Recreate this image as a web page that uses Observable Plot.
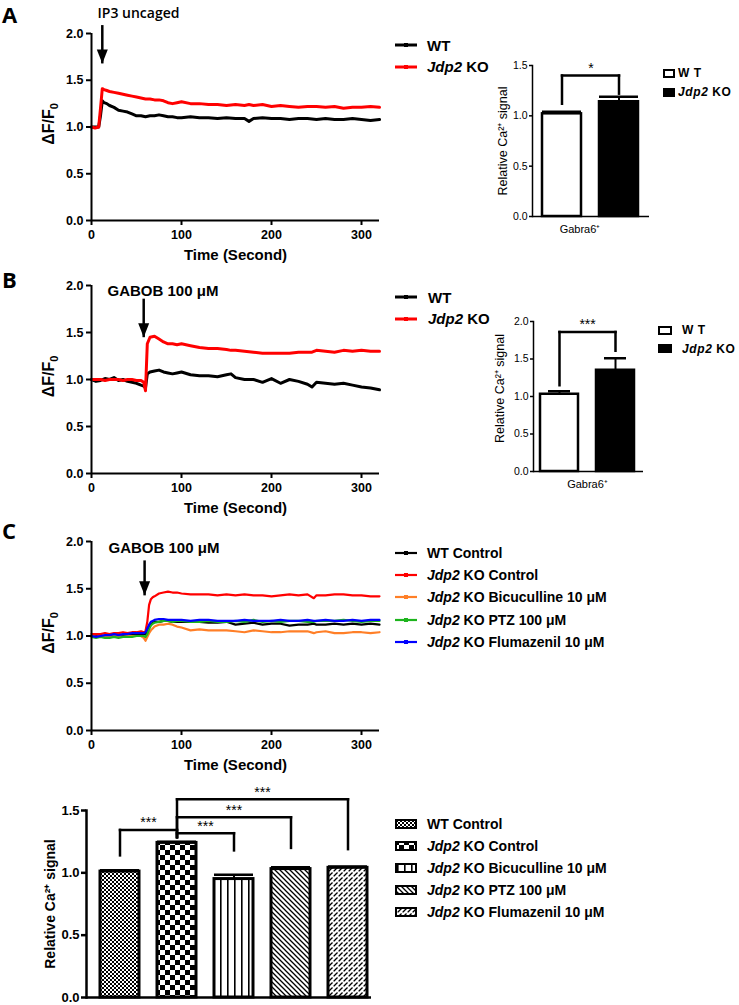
<!DOCTYPE html>
<html><head><meta charset="utf-8">
<script src="https://cdn.jsdelivr.net/npm/d3@7"></script>
<script src="https://cdn.jsdelivr.net/npm/@observablehq/plot@0.6"></script>
<style>
body{margin:0;background:#fff;}
#page{position:relative;width:739px;height:1005px;overflow:hidden;background:#fff;font-family:"Liberation Sans",Arial,Helvetica,sans-serif;}
.letter{position:absolute;font-family:"Open Sans",sans-serif;font-weight:700;font-size:22px;line-height:22px;}
.leg{position:absolute;font-weight:bold;white-space:nowrap;color:#000;}
</style></head><body>
<svg width="0" height="0" style="position:absolute">
<defs>
<pattern id="pWT" width="4" height="4" patternUnits="userSpaceOnUse"><rect width="4" height="4" fill="white"/><rect width="2" height="2" fill="black"/><rect x="2" y="2" width="2" height="2" fill="black"/></pattern>
<pattern id="pKO" width="10" height="10" patternUnits="userSpaceOnUse"><rect width="10" height="10" fill="white"/><rect width="5" height="5" fill="black"/><rect x="5" y="5" width="5" height="5" fill="black"/></pattern>
<pattern id="pBic" width="7" height="6" patternUnits="userSpaceOnUse"><rect width="7" height="6" fill="white"/><rect x="3" width="1.6" height="6" fill="black"/></pattern>
<pattern id="pPTZ" width="5" height="5" patternUnits="userSpaceOnUse"><rect width="5" height="5" fill="white"/><path d="M-1,-1 L6,6 M-1,4 L1,6 M4,-1 L6,1" stroke="black" stroke-width="1.3"/></pattern>
<pattern id="pFlu" width="5" height="5" patternUnits="userSpaceOnUse"><rect width="5" height="5" fill="white"/><path d="M-1,6 L6,-1 M-1,1 L1,-1 M4,6 L6,4" stroke="black" stroke-width="1.3" stroke-dasharray="5 1.5"/></pattern>
</defs></svg>
<div id="page"></div>
<script>
// ===================== DATA =====================
// Panel A traces
const timeA = [0,4,8,10,12,14,17,20,25,30,35,40,45,50,55,60,65,70,75,80,85,90,95,100,110,120,130,140,150,160,170,175,180,190,200,210,220,230,240,250,260,270,280,290,300,310,320];
const wtA = [1.00,1.00,1.00,1.12,1.28,1.26,1.25,1.23,1.21,1.18,1.17,1.16,1.14,1.12,1.12,1.11,1.12,1.12,1.13,1.12,1.11,1.11,1.10,1.10,1.11,1.10,1.10,1.09,1.10,1.09,1.09,1.06,1.09,1.10,1.09,1.09,1.08,1.09,1.09,1.08,1.09,1.08,1.08,1.09,1.08,1.07,1.08];
const koA = [1.00,0.99,1.00,1.20,1.41,1.40,1.39,1.38,1.37,1.36,1.35,1.34,1.33,1.32,1.31,1.30,1.30,1.29,1.29,1.28,1.26,1.25,1.26,1.27,1.25,1.25,1.24,1.24,1.23,1.24,1.23,1.24,1.23,1.24,1.22,1.23,1.22,1.21,1.22,1.22,1.21,1.22,1.20,1.21,1.21,1.22,1.21];
// Panel B traces
const timeB = [0,5,10,15,20,25,30,35,40,45,50,55,58,60,62,65,70,75,80,85,90,95,100,110,120,130,140,150,155,160,170,180,190,200,210,220,230,240,245,250,260,270,280,290,300,310,320];
const wtB = [1.00,0.98,0.99,1.01,1.00,1.02,0.99,1.00,0.98,0.97,0.96,0.94,0.93,0.91,1.06,1.08,1.09,1.10,1.08,1.07,1.06,1.07,1.08,1.05,1.04,1.04,1.03,1.05,1.06,1.02,1.00,1.00,0.97,1.01,0.96,1.00,0.98,0.95,0.92,0.97,0.96,0.95,0.96,0.94,0.92,0.91,0.89];
const koB = [1.00,1.00,1.00,0.99,1.00,1.00,1.00,0.99,1.00,1.00,0.99,0.99,0.97,0.88,1.38,1.45,1.46,1.43,1.40,1.38,1.38,1.37,1.38,1.36,1.34,1.33,1.33,1.32,1.31,1.31,1.30,1.29,1.28,1.28,1.28,1.28,1.29,1.29,1.29,1.31,1.30,1.29,1.31,1.30,1.31,1.30,1.30];
// Panel C traces
const timeC = [0,5,10,15,20,25,30,35,40,45,50,55,58,60,62,64,66,68,70,75,80,85,90,95,100,110,120,130,140,150,160,170,180,190,200,210,220,230,240,247,250,260,270,280,290,300,310,320];
const wtC  = [1.00,1.00,0.99,1.00,1.00,1.01,1.00,1.01,1.01,1.02,1.01,1.02,1.02,1.02,1.05,1.09,1.12,1.14,1.15,1.15,1.16,1.16,1.15,1.15,1.15,1.15,1.15,1.14,1.14,1.15,1.12,1.13,1.14,1.12,1.13,1.13,1.11,1.12,1.12,1.13,1.12,1.12,1.13,1.12,1.13,1.12,1.13,1.12];
const koC  = [1.02,1.02,1.02,1.03,1.02,1.03,1.03,1.04,1.03,1.04,1.04,1.05,1.04,1.05,1.15,1.33,1.39,1.41,1.42,1.45,1.46,1.47,1.46,1.46,1.45,1.44,1.44,1.44,1.43,1.44,1.43,1.44,1.43,1.43,1.42,1.43,1.44,1.43,1.44,1.40,1.43,1.43,1.44,1.44,1.43,1.43,1.42,1.42];
const bicC = [1.00,0.99,0.99,1.00,0.99,1.00,1.00,0.99,1.00,1.00,1.00,1.00,0.98,0.95,0.99,1.03,1.06,1.08,1.10,1.12,1.12,1.13,1.12,1.10,1.09,1.06,1.07,1.06,1.06,1.06,1.05,1.04,1.06,1.05,1.04,1.04,1.05,1.05,1.05,1.03,1.04,1.05,1.03,1.03,1.04,1.04,1.03,1.04];
const ptzC = [0.99,0.98,0.99,0.98,0.98,0.99,0.98,0.99,0.99,0.99,1.00,1.00,1.00,0.99,1.02,1.07,1.11,1.13,1.14,1.15,1.16,1.16,1.15,1.16,1.16,1.15,1.15,1.16,1.15,1.15,1.16,1.15,1.17,1.15,1.16,1.15,1.16,1.16,1.15,1.15,1.16,1.16,1.16,1.17,1.16,1.15,1.16,1.16];
const fluC = [1.00,0.99,1.00,1.01,1.01,1.02,1.01,1.02,1.02,1.03,1.03,1.03,1.03,1.04,1.08,1.12,1.15,1.16,1.17,1.18,1.18,1.17,1.17,1.17,1.17,1.16,1.17,1.17,1.16,1.16,1.16,1.17,1.16,1.16,1.16,1.17,1.16,1.16,1.17,1.16,1.16,1.17,1.16,1.16,1.17,1.16,1.17,1.17];

const namesAB = ["WT", "Jdp2 KO"];
const namesC = ["WT Control", "Jdp2 KO Control", "Jdp2 KO Bicuculline 10 μM", "Jdp2 KO PTZ 100 μM", "Jdp2 KO Flumazenil 10 μM"];

// bar summaries
const groupsAB = ["WT", "Jdp2 KO"];
const meanA = [1.02, 1.14];
const semA  = [0.02, 0.05];
const meanB = [1.03, 1.35];
const semB  = [0.04, 0.16];
const meanC = [1.01, 1.24, 0.95, 1.03, 1.04];
const semC  = [0.01, 0.01, 0.035, 0.015, 0.01];

// tick values
const ticksDF = [0, 0.5, 1, 1.5, 2];
const ticksTime = [0, 100, 200, 300];
const ticksBar15 = [0, 0.5, 1, 1.5];
const ticksBar20 = [0, 0.5, 1, 1.5, 2];

// stimulation annotations (time, arrow span in ΔF/F0 units)
const stimA = {t: 12, from: 2.09, to: 1.68, label: "IP3 uncaged", lt: 6.7, ly: 2.21};
const stimB = {t: 58, from: 1.86, to: 1.45, label: "GABOB 100 μM", lt: 17.8, ly: 1.94};
const stimC = {t: 59, from: 1.80, to: 1.43, label: "GABOB 100 μM", lt: 18.9, ly: 1.93};

// significance brackets (group indices, bracket levels)
const sigA = [{a: 0, b: 1, lo1: 1.12, level: 1.40, lo2: 1.22, label: "*"}];
const sigB = [{a: 0, b: 1, lo1: 1.15, level: 1.86, lo2: 1.61, label: "***"}];
const sigC = [
  {a: 0, b: 1, lo1: 1.14, level: 1.344, lo2: 1.286, label: "***"},
  {a: 1, b: 2, lo1: 1.286, level: 1.318, lo2: 1.18, label: "***"},
  {a: 1, b: 3, lo1: 1.286, level: 1.446, lo2: 1.20, label: "***"},
  {a: 1, b: 4, lo1: 1.286, level: 1.59, lo2: 1.19, label: "***"}
];

// ===================== STYLE =====================
const FONT = "Liberation Sans, Arial, Helvetica, sans-serif";
const colorsAB = ["#000000", "#ff0000"];
const colorsC = ["#000000", "#ff0000", "#ff7f27", "#1db41d", "#0000ff"];
const patternsC = ["url(#pWT)", "url(#pKO)", "url(#pBic)", "url(#pPTZ)", "url(#pFlu)"];

const page = document.getElementById("page");
function place(node, left, top) {
  node.style.position = "absolute";
  node.style.left = left + "px";
  node.style.top = top + "px";
  page.appendChild(node);
  return node;
}
const downTri = {draw(ctx) { ctx.moveTo(-5.5, -14); ctx.lineTo(5.5, -14); ctx.lineTo(0, 0); ctx.closePath(); }};

// turn the plain "F₀" into a real subscript tspan
function fixSubscript(svg) {
  svg.querySelectorAll("text").forEach(t => {
    if (t.textContent === "ΔF/F₀") {
      t.innerHTML = 'ΔF/F<tspan font-size="11" dy="4">0</tspan>';
    }
  });
  return svg;
}

function lineChart(o) {
  return fixSubscript(Plot.plot({
    width: 390, height: o.mt + o.ph + 45,
    marginLeft: 91, marginRight: 11, marginTop: o.mt, marginBottom: 45,
    x: {domain: [0, 320]}, y: {domain: [0, 2]},
    style: {fontFamily: FONT, background: "transparent", overflow: "visible"},
    marks: [
      ...o.series.map(s => Plot.line(s.time.map((t, i) => ({t, v: s.values[i]})),
        {x: "t", y: "v", stroke: s.color, strokeWidth: o.sw, strokeLinejoin: "round"})),
      Plot.ruleY([0], {strokeWidth: 2}),
      Plot.ruleX([0], {strokeWidth: 2}),
      Plot.axisY({ticks: ticksDF, tickFormat: d => d.toFixed(1), tickSize: 5, tickPadding: 3, strokeWidth: 2, fontSize: 12.5, fontWeight: "bold", label: null}),
      Plot.axisX({ticks: ticksTime, tickSize: 5, tickPadding: 5, strokeWidth: 2, fontSize: 12.5, fontWeight: "bold", label: null}),
      Plot.link([o.stim], {x1: "t", x2: "t", y1: "from", y2: "to", strokeWidth: 2.5, stroke: "black"}),
      Plot.dot([o.stim], {x: "t", y: "to", symbol: downTri, fill: "black", stroke: "none"}),
      Plot.text([o.stim], {x: "lt", y: "ly", text: "label", textAnchor: "start", fontSize: o.labelSize, fontWeight: o.labelWeight, fontFamily: o.labelFont}),
      Plot.text(["Time (Second)"], {frameAnchor: "bottom", textAnchor: "middle", lineAnchor: "middle", dy: 35, fontSize: 15, fontWeight: "bold"}),
      Plot.text(["ΔF/F₀"], {frameAnchor: "left", textAnchor: "middle", lineAnchor: "middle", rotate: -90, dx: -43, dy: -3, fontSize: 16, fontWeight: "bold"})
    ]
  }));
}

function barChart(o) {
  const rows = o.groups.map((g, i) => ({g, m: o.mean[i], e: o.sem[i], fill: o.fills[i]}));
  const n = o.groups.length;
  const step = (o.width - o.ml - o.mr) / (n - o.pi + 2 * o.po);
  const segs = o.sig.flatMap(s => [
    {x1: o.groups[s.a], x2: o.groups[s.a], y1: s.lo1, y2: s.level},
    {x1: o.groups[s.a], x2: o.groups[s.b], y1: s.level, y2: s.level},
    {x1: o.groups[s.b], x2: o.groups[s.b], y1: s.level, y2: s.lo2}
  ]);
  return Plot.plot({
    width: o.width, height: o.mt + o.ph + o.mb,
    marginLeft: o.ml, marginRight: o.mr, marginTop: o.mt, marginBottom: o.mb,
    x: {domain: o.groups, paddingInner: o.pi, paddingOuter: o.po, align: o.align, axis: null},
    y: {domain: o.domain},
    color: {type: "identity"},
    style: {fontFamily: FONT, background: "transparent", overflow: "visible"},
    marks: [
      Plot.ruleX(rows, {x: "g", y1: "m", y2: d => d.m + d.e, strokeWidth: o.esw}),
      Plot.barY(rows, {x: "g", y: "m", fill: "fill", stroke: "black", strokeWidth: o.bsw}),
      Plot.tickY(rows, {x: "g", y: d => d.m + d.e, strokeWidth: o.csw, insetLeft: o.capInset, insetRight: o.capInset}),
      Plot.link(segs, {x1: "x1", x2: "x2", y1: "y1", y2: "y2", stroke: "black", strokeWidth: o.lsw, strokeLinecap: "square"}),
      ...o.sig.map(s => Plot.text([s], {x: d => o.groups[d.a], y: "level", text: "label", dx: (s.b - s.a) * step / 2, dy: -7, lineAnchor: "middle", fontSize: 14})),
      Plot.ruleY([0], {strokeWidth: o.asw}),
      Plot.frame({anchor: "left", strokeWidth: o.asw}),
      Plot.axisY({ticks: o.ticks, tickFormat: d => d.toFixed(1), tickSize: o.tickSize, tickPadding: 2, strokeWidth: o.asw, fontSize: o.tickFont, fontWeight: o.tickWeight, label: null}),
      Plot.text(["Relative Ca²⁺ signal"], {frameAnchor: "left", textAnchor: "middle", lineAnchor: "middle", rotate: -90, dx: o.ylabDx, dy: o.ylabDy, fontSize: o.ylabSize, fontWeight: o.ylabWeight}),
      ...(o.xlabel ? [Plot.text([o.xlabel], {frameAnchor: "bottom", textAnchor: "middle", lineAnchor: "middle", dy: 13, dx: o.xlabDx, fontSize: 11})] : [])
    ]
  });
}

// ============ panel letters ============
[["A", 2, 3], ["B", 2, 268], ["C", 2, 519]].forEach(([t, l, tp]) => {
  const d = document.createElement("div"); d.className = "letter"; d.textContent = t; place(d, l, tp);
});

// ============ line charts ============
place(lineChart({mt: 33, ph: 187, sw: 3, stim: stimA, labelSize: 14, labelWeight: 600, labelFont: "Open Sans, sans-serif",
  series: [{time: timeA, values: wtA, color: colorsAB[0]}, {time: timeA, values: koA, color: colorsAB[1]}]}), 0, 0);
place(lineChart({mt: 15, ph: 188, sw: 3, stim: stimB, labelSize: 15, labelWeight: "bold", labelFont: FONT,
  series: [{time: timeB, values: wtB, color: colorsAB[0]}, {time: timeB, values: koB, color: colorsAB[1]}]}), 0, 270);
place(lineChart({mt: 21, ph: 189, sw: 2.2, stim: stimC, labelSize: 15, labelWeight: "bold", labelFont: FONT,
  series: [wtC, koC, bicC, ptzC, fluC].map((v, i) => ({time: timeC, values: v, color: colorsC[i]}))}), 0, 520);

// ============ bar charts ============
place(barChart({width: 190, ml: 62, mr: 11, mt: 15, ph: 151, mb: 30, domain: [0, 1.5], ticks: ticksBar15,
  groups: groupsAB, mean: meanA, sem: semA, fills: ["white", "black"], pi: 0.316, po: 0.167, align: 0.47,
  sig: sigA, esw: 2, bsw: 2.5, csw: 2.5, capInset: 0, lsw: 2.5, asw: 1.5, tickSize: 3, tickFont: 10.5, tickWeight: "normal",
  ylabDx: -30, ylabDy: 0, ylabSize: 12.5, ylabWeight: "normal", xlabel: "Gabra6⁺", xlabDx: -11}), 470, 50);
place(barChart({width: 190, ml: 63, mr: 17, mt: 15, ph: 150, mb: 30, domain: [0, 2], ticks: ticksBar20,
  groups: groupsAB, mean: meanB, sem: semB, fills: ["white", "black"], pi: 0.32, po: 0.14, align: 0.44,
  sig: sigB, esw: 2, bsw: 2.5, csw: 2.5, capInset: 8, lsw: 2.5, asw: 1.5, tickSize: 3, tickFont: 10.5, tickWeight: "normal",
  ylabDx: -34, ylabDy: -8, ylabSize: 12.5, ylabWeight: "normal", xlabel: "Gabra6⁺", xlabDx: -1}), 470, 306);
place(barChart({width: 380, ml: 86, mr: 9, mt: 25, ph: 187, mb: 8, domain: [0, 1.5], ticks: ticksBar15,
  groups: namesC, mean: meanC, sem: semC, fills: patternsC, pi: 0.32, po: 0.16, align: 0.78,
  sig: sigC, esw: 2, bsw: 3, csw: 2.5, capInset: 0, lsw: 2.5, asw: 2.5, tickSize: 5, tickFont: 13, tickWeight: "bold",
  ylabDx: -36, ylabDy: 0, ylabSize: 14, ylabWeight: "bold", xlabel: null}), 0, 785);

// ============ legends ============
const fmt = s => s.replace("Jdp2", "<i>Jdp2</i>");
function legText(html, left, cy, size, extra) {
  const d = document.createElement("div");
  d.className = "leg";
  d.style.fontSize = size + "px"; d.style.lineHeight = size + "px"; d.style.height = size + "px";
  if (extra) Object.assign(d.style, extra);
  d.innerHTML = html;
  return place(d, left, cy - size / 2);
}
function lineSwatch(color, left, cy, sw) {
  const s = document.createElementNS("http://www.w3.org/2000/svg", "svg");
  s.setAttribute("width", 24); s.setAttribute("height", 8);
  s.innerHTML = `<line x1="1" x2="23" y1="4" y2="4" stroke="${color}" stroke-width="${sw}"/><rect x="10" y="2" width="4" height="4" fill="${color}"/>`;
  return place(s, left - 1, cy - 4);
}
function boxSwatch(fill, left, cy, w, h, sw) {
  const s = document.createElementNS("http://www.w3.org/2000/svg", "svg");
  s.setAttribute("width", w + 4); s.setAttribute("height", h + 4);
  s.innerHTML = `<rect x="2" y="2" width="${w}" height="${h}" fill="${fill}" stroke="black" stroke-width="${sw}"/>`;
  return place(s, left - 2, cy - h / 2 - 2);
}
// A & B line legends
namesAB.forEach((n, i) => {
  lineSwatch(colorsAB[i], 395, 45 + i * 21.5, 3); legText(fmt(n), 427, 45 + i * 21.5, 15);
  lineSwatch(colorsAB[i], 395, 297 + i * 21.5, 3); legText(fmt(n), 428, 297 + i * 21.5, 15);
});
// A & B bar legends
const barLegNames = ["W T", "Jdp2 KO"];
["white", "black"].forEach((f, i) => {
  boxSwatch(f, 664, 73 + i * 19, 10, 7, 2); legText(fmt(barLegNames[i]), 678, 73 + i * 19, 12, {letterSpacing: "0.6px"});
  boxSwatch(f, 659, 330 + i * 18.5, 12, 7, 2); legText(fmt(barLegNames[i]), 682, 330 + i * 18.5, 12, {letterSpacing: "0.6px"});
});
// C line legend
namesC.forEach((n, i) => {
  lineSwatch(colorsC[i], 395, 553 + i * 22.2, 2.2); legText(fmt(n), 427, 553 + i * 22.2, 14);
});
// C bar legend
namesC.forEach((n, i) => {
  boxSwatch(patternsC[i], 396, 824 + i * 22, 20, 8, 2); legText(fmt(n), 427, 824 + i * 22, 14);
});
</script></body></html>
